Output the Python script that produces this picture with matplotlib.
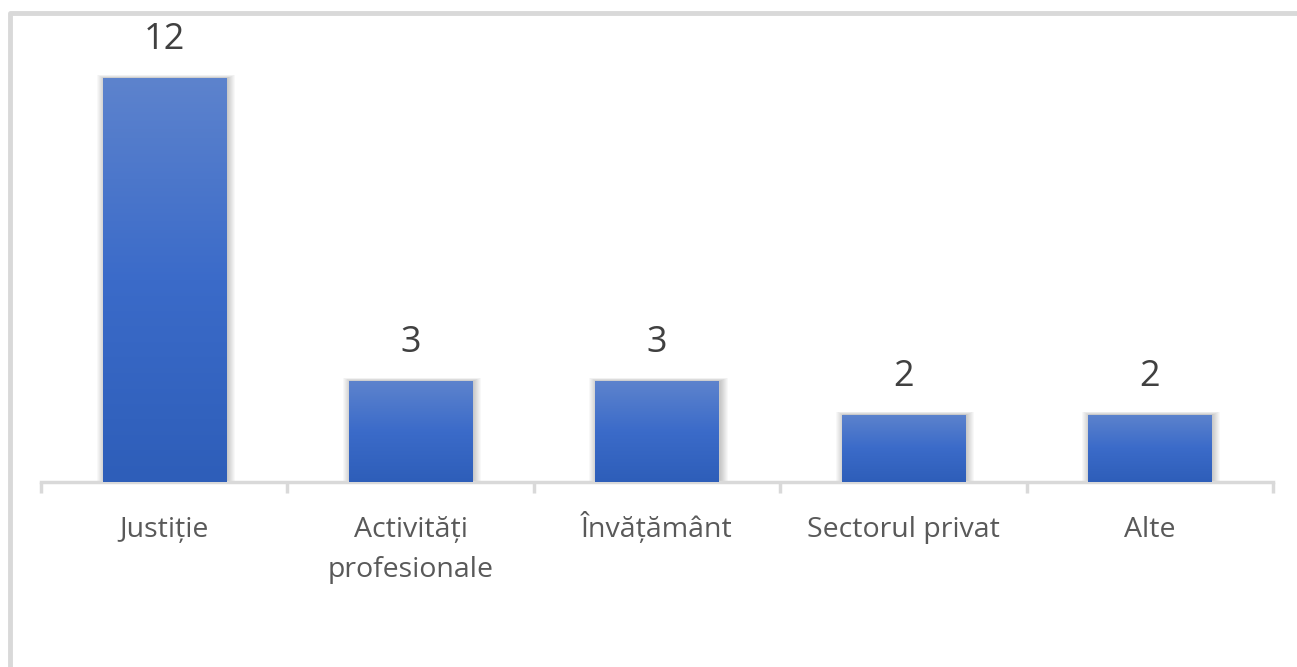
import matplotlib.pyplot as plt
import numpy as np
from matplotlib.patches import Rectangle
from matplotlib.lines import Line2D
from matplotlib.colors import LinearSegmentedColormap
from matplotlib.transforms import blended_transform_factory

# Data
categories = ['Justiție', 'Activități\nprofesionale', 'Învățământ', 'Sectorul privat', 'Alte']
values = [12, 3, 3, 2, 2]

plt.rcParams['font.family'] = ['Open Sans', 'DejaVu Sans']

fig = plt.figure(figsize=(12.97, 6.67), dpi=100)
fig.patch.set_facecolor('white')

W, H = 1297, 667
ax_h = 482 - 11
ax = fig.add_axes([41 / W, (H - 482) / H, (1273 - 41) / W, ax_h / H])

x = np.arange(len(categories))
bar_w = 0.5
ymax = 14
bars = ax.bar(x, values, width=bar_w, color='none', zorder=3)

px_x = len(categories) / (1273 - 41)   # data units per pixel (x)
px_y = ymax / ax_h                      # data units per pixel (y)

# gradient (light top -> dark bottom)
grad_cmap = LinearSegmentedColormap.from_list('g', ['#2e5eb9', '#3b6bc9', '#5d83cd'])
grad = np.linspace(0, 1, 256).reshape(-1, 1)

for b in bars:
    x0, y0 = b.get_x(), b.get_y()
    w, h = b.get_width(), b.get_height()
    # soft shadow
    for i in range(1, 9):
        ax.add_patch(Rectangle((x0 - (i - 2) * px_x, y0),
                               w + (2 * i - 1) * px_x, h + i * 0.4 * px_y,
                               facecolor='black', alpha=0.026, lw=0, zorder=2))
    im = ax.imshow(grad, extent=[x0, x0 + w, y0, y0 + h], origin='lower',
                   cmap=grad_cmap, aspect='auto', zorder=3)
    clip = Rectangle((x0, y0), w, h, transform=ax.transData)
    im.set_clip_path(clip)

for xi, v in zip(x, values):
    ax.text(xi, v + 0.6, str(v), ha='center', va='bottom',
            fontsize=26, color='#404040')

ax.set_xlim(-0.5, len(categories) - 0.5)
ax.set_ylim(0, ymax)

for s in ['top', 'right', 'left']:
    ax.spines[s].set_visible(False)
ax.spines['bottom'].set_color('#d9d9d9')
ax.spines['bottom'].set_linewidth(2.5)
ax.set_yticks([])

# category labels, first line baseline aligned
ax.set_xticks(np.arange(len(categories) + 1) - 0.5)
ax.set_xticklabels([])
ax.tick_params(axis='x', length=8, width=2.5, color='#d9d9d9')
trans = blended_transform_factory(ax.transData, ax.transAxes)
for xi, lab in zip(x, categories):
    lines = lab.split('\n')
    for j, line in enumerate(lines):
        ax.text(xi, -(55 + 40 * j) / ax_h, line, transform=trans,
                ha='center', va='baseline', fontsize=20.5, color='#595959')

# outer border (left and top only visible)
bx, by = 10 / W, (H - 13) / H
fig.add_artist(Line2D([bx, bx, 1], [0, by, by], transform=fig.transFigure,
                      color='#d9d9d9', lw=3.5))

fig.savefig('out.png', dpi=100, facecolor='white')
